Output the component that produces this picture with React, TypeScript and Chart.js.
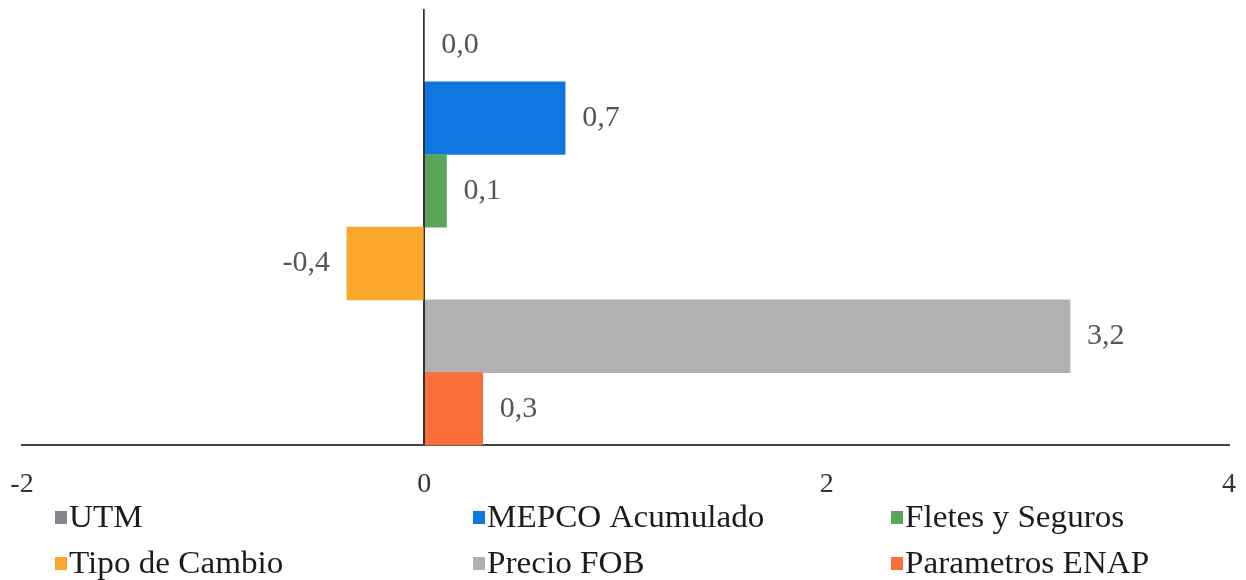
import React, { useEffect, useRef } from "react";
import { Chart, registerables } from "chart.js";

Chart.register(...registerables);

const categories = ["UTM", "MEPCO Acumulado", "Fletes y Seguros", "Tipo de Cambio", "Precio FOB", "Parametros ENAP"];
const values = [0.0, 0.7, 0.11, -0.385, 3.21, 0.29];
const colors = ["#87858b", "#1177e0", "#5aa658", "#fba72a", "#b3b0b4", "#f96e3b"];
const xTicks = [-2, 0, 2, 4];

const FONT = "'Liberation Serif', 'Times New Roman', serif";

const valueLabels = {
  id: "valueLabels",
  afterDatasetsDraw(chart: any) {
    const ctx = chart.ctx;
    const meta = chart.getDatasetMeta(0);
    const data = chart.data.datasets[0].data as number[];
    ctx.save();
    ctx.font = `30px ${FONT}`;
    ctx.fillStyle = "#555555";
    ctx.textBaseline = "middle";
    meta.data.forEach((bar: any, i: number) => {
      const v = data[i];
      const txt = v.toFixed(1).replace(".", ",");
      if (v < 0) {
        ctx.textAlign = "right";
        ctx.fillText(txt, bar.x - 17, bar.y);
      } else {
        ctx.textAlign = "left";
        ctx.fillText(txt, bar.x + 17, bar.y);
      }
    });
    ctx.restore();
  },
};

const gridLegend = {
  id: "gridLegend",
  afterDraw(chart: any) {
    const ctx = chart.ctx;
    const labels = chart.data.labels as string[];
    const bg = chart.data.datasets[0].backgroundColor as string[];
    const baselines = [527, 573];
    ctx.save();
    labels.forEach((lab, i) => {
      const col = i % 3;
      const row = Math.floor(i / 3);
      const bx = 55 + col * 418;
      const base = baselines[row];
      ctx.fillStyle = bg[i];
      ctx.fillRect(bx, base - 16, 12, 13);
      ctx.save();
      ctx.translate(bx + 14, base);
      ctx.scale(1.07, 1);
      ctx.font = `31px ${FONT}`;
      ctx.fillStyle = "#1c1c1c";
      ctx.textAlign = "left";
      ctx.textBaseline = "alphabetic";
      ctx.fillText(lab, 0, 0);
      ctx.restore();
    });
    ctx.restore();
  },
};

export default function App() {
  const ref = useRef<HTMLCanvasElement | null>(null);
  useEffect(() => {
    if (!ref.current) return;
    const chart = new Chart(ref.current, {
      type: "bar",
      data: {
        labels: categories,
        datasets: [
          {
            data: values,
            backgroundColor: colors,
            borderWidth: 0,
            barPercentage: 1,
            categoryPercentage: 1,
          },
        ],
      },
      options: {
        indexAxis: "y",
        animation: false,
        responsive: false,
        maintainAspectRatio: false,
        layout: { padding: { left: 22, right: 17, top: 9, bottom: 57 } },
        plugins: {
          legend: { display: false },
          tooltip: { enabled: false },
          title: { display: false },
        },
        scales: {
          x: {
            type: "linear",
            min: xTicks[0],
            max: xTicks[xTicks.length - 1],
            afterBuildTicks: (scale: any) => {
              scale.ticks = xTicks.map((v) => ({ value: v }));
            },
            afterFit: (scale: any) => {
              scale.paddingLeft = 0;
              scale.paddingRight = 0;
            },
            ticks: {
              font: { family: FONT, size: 28 },
              color: "#333333",
              padding: 22,
              callback: (v: any) => String(v),
            },
            grid: {
              drawTicks: false,
              color: (c: any) => (c.tick && c.tick.value === 0 ? "#333333" : "rgba(0,0,0,0)"),
              lineWidth: 2,
            },
            border: { display: true, color: "#444444", width: 2 },
          },
          y: { display: false },
        },
      },
      plugins: [valueLabels, gridLegend],
    });
    return () => chart.destroy();
  }, []);
  return (
    <div style={{ position: "fixed", left: 0, top: 0, width: 1246, height: 580, background: "#ffffff" }}>
      <canvas ref={ref} width={1246} height={580} style={{ width: 1246, height: 580, display: "block" }} />
    </div>
  );
}
